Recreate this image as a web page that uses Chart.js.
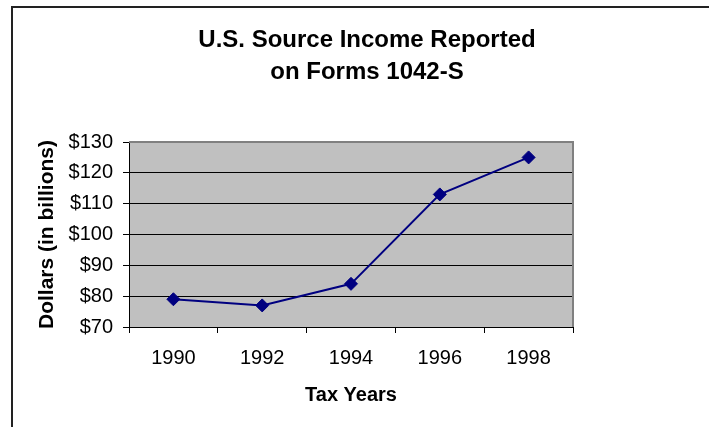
<!DOCTYPE html>
<html>
<head>
    <title>U.S. Source Income Reported on Forms 1042-S</title>
    <script src="https://cdn.jsdelivr.net/npm/chart.js"></script>
    <style>
        html, body { margin: 0; padding: 0; background: #ffffff; }
        .chart-container { position: relative; width: 709px; height: 427px; }
    </style>
</head>
<body>
    <div class="chart-container">
        <canvas id="incomeChart" width="709" height="427"></canvas>
    </div>

    <script>
        // chart data
        var taxYears = ['1990', '1992', '1994', '1996', '1998'];
        var incomeBillions = [79, 77, 84, 113, 125];
        var yTickValues = [70, 80, 90, 100, 110, 120, 130];
        var titleLines = ['U.S. Source Income Reported', 'on Forms 1042-S'];

        var fontFamily = '"Liberation Sans", Arial, sans-serif';

        // outer frame, title and grey plot background
        var framePlugin = {
            id: 'framePlugin',
            beforeDraw: function(chart) {
                var ctx = chart.ctx;
                var area = chart.chartArea;
                ctx.save();
                ctx.fillStyle = '#ffffff';
                ctx.fillRect(0, 0, chart.width, chart.height);

                // frame (top and left only)
                ctx.strokeStyle = '#222222';
                ctx.lineWidth = 2;
                ctx.beginPath();
                ctx.moveTo(12, chart.height);
                ctx.lineTo(12, 7);
                ctx.lineTo(chart.width, 7);
                ctx.stroke();

                // plot background
                ctx.fillStyle = '#c0c0c0';
                ctx.fillRect(area.left, area.top, area.right - area.left, area.bottom - area.top);

                // title
                ctx.fillStyle = '#000000';
                ctx.font = 'bold 24px ' + fontFamily;
                ctx.textAlign = 'center';
                ctx.textBaseline = 'middle';
                titleLines.forEach(function(line, i) {
                    ctx.fillText(line, 367, 40 + i * 32);
                });
                ctx.restore();
            },
            afterDatasetsDraw: function(chart) {
                // grey border on top and right of the plot
                var ctx = chart.ctx;
                var area = chart.chartArea;
                ctx.save();
                ctx.strokeStyle = '#808080';
                ctx.lineWidth = 2;
                ctx.beginPath();
                ctx.moveTo(area.left, area.top);
                ctx.lineTo(area.right, area.top);
                ctx.lineTo(area.right, area.bottom);
                ctx.stroke();
                ctx.restore();
            }
        };

        var ctx = document.getElementById('incomeChart').getContext('2d');
        var chart = new Chart(ctx, {
            type: 'line',
            data: {
                labels: taxYears,
                datasets: [{
                    label: 'U.S. Source Income',
                    data: incomeBillions,
                    borderColor: '#000080',
                    backgroundColor: '#000080',
                    borderWidth: 2,
                    pointStyle: 'rectRot',
                    pointRadius: 6.5,
                    pointBorderWidth: 1,
                    pointBackgroundColor: '#000080',
                    pointBorderColor: '#000080',
                    tension: 0,
                    fill: false
                }]
            },
            options: {
                responsive: false,
                animation: false,
                devicePixelRatio: 1,
                layout: {
                    padding: { top: 142, right: 136, bottom: 0, left: 0 }
                },
                plugins: {
                    legend: { display: false },
                    title: { display: false },
                    tooltip: { enabled: false }
                },
                scales: {
                    x: {
                        type: 'category',
                        offset: true,
                        afterFit: function(scale) { scale.height = 100; },
                        grid: {
                            offset: true,
                            drawOnChartArea: false,
                            drawTicks: true,
                            tickLength: 6,
                            tickColor: '#000000'
                        },
                        border: { display: true, color: '#000000', width: 1 },
                        ticks: {
                            color: '#000000',
                            padding: 13,
                            maxRotation: 0,
                            font: { family: fontFamily, size: 20 }
                        },
                        title: {
                            display: true,
                            text: 'Tax Years',
                            color: '#000000',
                            padding: { top: 0, bottom: 20 },
                            font: { family: fontFamily, size: 20, weight: 'bold' }
                        }
                    },
                    y: {
                        min: 70,
                        max: 130,
                        afterFit: function(scale) { scale.width = 129; },
                        afterBuildTicks: function(scale) {
                            scale.ticks = yTickValues.map(function(v) { return { value: v }; });
                        },
                        grid: {
                            drawTicks: true,
                            tickLength: 6,
                            tickColor: '#000000',
                            color: function(c) {
                                return c.tick && c.tick.value === 130 ? '#808080' : '#000000';
                            },
                            lineWidth: 1
                        },
                        border: { display: true, color: '#000000', width: 1 },
                        ticks: {
                            color: '#000000',
                            padding: 10,
                            font: { family: fontFamily, size: 20 },
                            callback: function(value) { return '$' + value; }
                        },
                        title: {
                            display: true,
                            text: 'Dollars (in billions)',
                            color: '#000000',
                            padding: { top: 35, bottom: 0 },
                            font: { family: fontFamily, size: 21, weight: 'bold' }
                        }
                    }
                }
            },
            plugins: [framePlugin]
        });
    </script>
</body>
</html>
